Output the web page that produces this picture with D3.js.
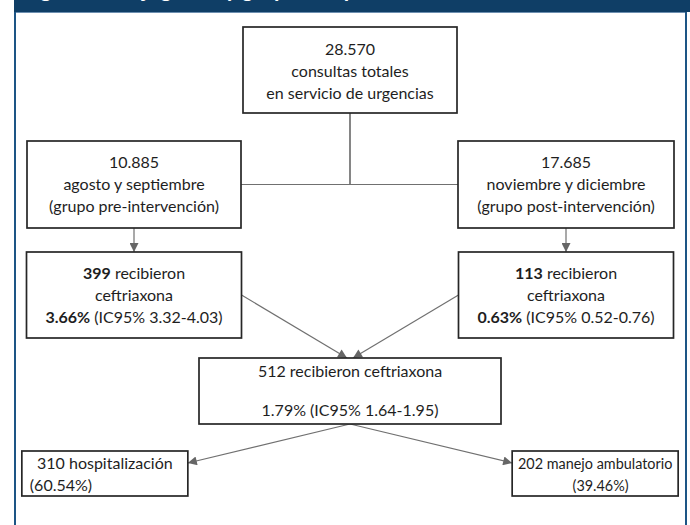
<!DOCTYPE html>
<html>
<head>
<meta charset="utf-8">
<script src="https://cdn.jsdelivr.net/npm/d3@7"></script>
<style>
  body { margin: 0; background: #fff; }
  svg { display: block; }
  text { font-family: Lato, 'Open Sans', sans-serif; }
</style>
</head>
<body>
<svg id="chart" width="690" height="525"></svg>
<script>
// nodes of the flow chart, text lines ("**" marks bold parts)
var nodos = ['total', 'pre', 'post', 'preCef', 'postCef', 'cef', 'hosp', 'amb']
var textos = [
  ['28.570', 'consultas totales', 'en servicio de urgencias'],
  ['10.885', 'agosto y septiembre', '(grupo pre-intervención)'],
  ['17.685', 'noviembre y diciembre', '(grupo post-intervención)'],
  ['**399** recibieron', 'ceftriaxona', '**3.66%** (IC95% 3.32-4.03)'],
  ['**113** recibieron', 'ceftriaxona', '**0.63%** (IC95% 0.52-0.76)'],
  ['512 recibieron ceftriaxona', '', '1.79% (IC95% 1.64-1.95)'],
  ['310 hospitalización', '(60.54%)'],
  ['202 manejo ambulatorio', '(39.46%)']
]
// which nodes are joined, and how
var desde = ['total', 'total', 'pre', 'post', 'preCef', 'postCef', 'cef', 'cef']
var hasta = ['pre', 'post', 'preCef', 'postCef', 'cef', 'cef', 'hosp', 'amb']
var tipo = ['codo', 'codo', 'flecha', 'flecha', 'flecha', 'flecha', 'flecha', 'flecha']
var titulo = 'Figura 1. Flujograma y grupos de pacientes'

// layout: column, row and box size of each node
var columna = [0, -1, 1, -1, 1, 0, -1.135, 1.135]
var fila = [0, 1, 1, 2, 2, 3, 4, 4]
var ancho = [214, 214, 216, 215, 215, 302, 166, 166]
var alto = [86, 87, 87, 86, 86, 66, 45, 45]
var primera = [28, 27, 27, 27, 27, 19, 18, 18]
var interlinea = [22, 22, 22, 22, 22, 19.5, 22, 22]
var compresion = [1, 1, 1, 1, 1, 1, 1, 0.9]

var width = 690
var height = 525
var svg = d3.select('#chart')

var x = d3.scaleLinear().domain([-1, 1]).range([134, 566])
var y = d3.scaleOrdinal().domain([0, 1, 2, 3, 4]).range([27, 141, 252, 358, 451])

var cajas = nodos.map(function (id, i) {
  var cx = x(columna[i])
  return {
    id: id,
    i: i,
    lineas: textos[i],
    x0: cx - ancho[i] / 2,
    x1: cx + ancho[i] / 2,
    y0: y(fila[i]),
    y1: y(fila[i]) + alto[i],
    cx: cx
  }
})
var porId = {}
cajas.forEach(function (c) { porId[c.id] = c })

// header band (title is cut off by the top edge, as in the source) and frame
svg.append('rect')
  .attr('x', 14).attr('y', 0)
  .attr('width', width - 14).attr('height', 12)
  .attr('fill', '#0f3e66')
svg.append('text')
  .attr('x', 22).attr('y', -3)
  .attr('fill', '#fff')
  .attr('font-weight', 'bold')
  .attr('font-size', 22)
  .text(titulo)
svg.append('line')
  .attr('x1', 15).attr('x2', 15).attr('y1', 12).attr('y2', height)
  .attr('stroke', '#1d5585').attr('stroke-width', 2)
svg.append('line')
  .attr('x1', 686).attr('x2', 686).attr('y1', 12).attr('y2', height)
  .attr('stroke', '#1d5585').attr('stroke-width', 2)
svg.append('line')
  .attr('x1', 16).attr('x2', 685).attr('y1', 12.5).attr('y2', 12.5)
  .attr('stroke', '#6d8fb0').attr('stroke-width', 1)

svg.append('defs').append('marker')
  .attr('id', 'punta')
  .attr('viewBox', '0 0 10 10')
  .attr('refX', 10).attr('refY', 5)
  .attr('markerWidth', 11).attr('markerHeight', 9)
  .attr('markerUnits', 'userSpaceOnUse')
  .attr('orient', 'auto')
  .append('path')
  .attr('d', 'M0,0 L10,5 L0,10 Z')
  .attr('fill', '#666')

// connectors
var conectores = svg.append('g')
  .attr('fill', 'none')
  .attr('stroke', '#707070')
  .attr('stroke-width', 1.2)

desde.forEach(function (d, i) {
  var a = porId[d]
  var b = porId[hasta[i]]
  if (tipo[i] === 'codo') {
    var yMid = (b.y0 + b.y1) / 2
    var xLado = b.cx < a.cx ? b.x1 : b.x0
    conectores.append('path')
      .attr('d', 'M' + a.cx + ',' + a.y1 + ' V' + yMid + ' H' + xLado)
  } else if (Math.abs(a.cx - b.cx) < 1) {
    conectores.append('path')
      .attr('d', 'M' + a.cx + ',' + a.y1 + ' V' + b.y0)
      .attr('marker-end', 'url(#punta)')
  } else if (fila[a.i] === 2) {
    // from the side of a group box to the top of the combined box
    var xs = a.cx < b.cx ? a.x1 : a.x0
    var ys = (a.y0 + a.y1) / 2
    var xe = b.cx + (a.cx < b.cx ? -3 : 3)
    conectores.append('path')
      .attr('d', 'M' + xs + ',' + ys + ' L' + xe + ',' + b.y0)
      .attr('marker-end', 'url(#punta)')
  } else {
    // from the bottom of the combined box to the inner side of an outcome box
    var xt = b.cx < a.cx ? b.x1 : b.x0
    conectores.append('path')
      .attr('d', 'M' + a.cx + ',' + a.y1 + ' L' + xt + ',' + (b.y0 + 12))
      .attr('marker-end', 'url(#punta)')
  }
})

// boxes
var g = svg.append('g').selectAll('g')
  .data(cajas).enter()
  .append('g')

g.append('rect')
  .attr('x', function (d) { return d.x0 })
  .attr('y', function (d) { return d.y0 })
  .attr('width', function (d) { return d.x1 - d.x0 })
  .attr('height', function (d) { return d.y1 - d.y0 })
  .attr('fill', '#fff')
  .attr('stroke', '#262626')
  .attr('stroke-width', 1.7)

g.each(function (d) {
  var c = compresion[d.i]
  var t = d3.select(this).append('text')
    .attr('text-anchor', 'middle')
    .attr('font-size', 16)
    .attr('fill', '#1e1e1e')
    .attr('transform', 'translate(' + d.cx + ',0) scale(' + c + ',1)')
  d.lineas.forEach(function (linea, k) {
    var ts = t.append('tspan')
      .attr('x', 0)
      .attr('y', d.y0 + primera[d.i] + k * interlinea[d.i])
    // the percentage under "hospitalización" sits at the left of its box
    if (d.id === 'hosp' && k === 1) {
      ts.attr('x', d.x0 + 8 - d.cx).attr('text-anchor', 'start')
    }
    if (d.id === 'amb' && k === 1) ts.attr('x', 6)
    linea.split('**').forEach(function (parte, j) {
      if (parte === '') return
      ts.append('tspan')
        .attr('font-weight', j % 2 === 1 ? 'bold' : null)
        .text(parte)
    })
  })
})
</script>
</body>
</html>
